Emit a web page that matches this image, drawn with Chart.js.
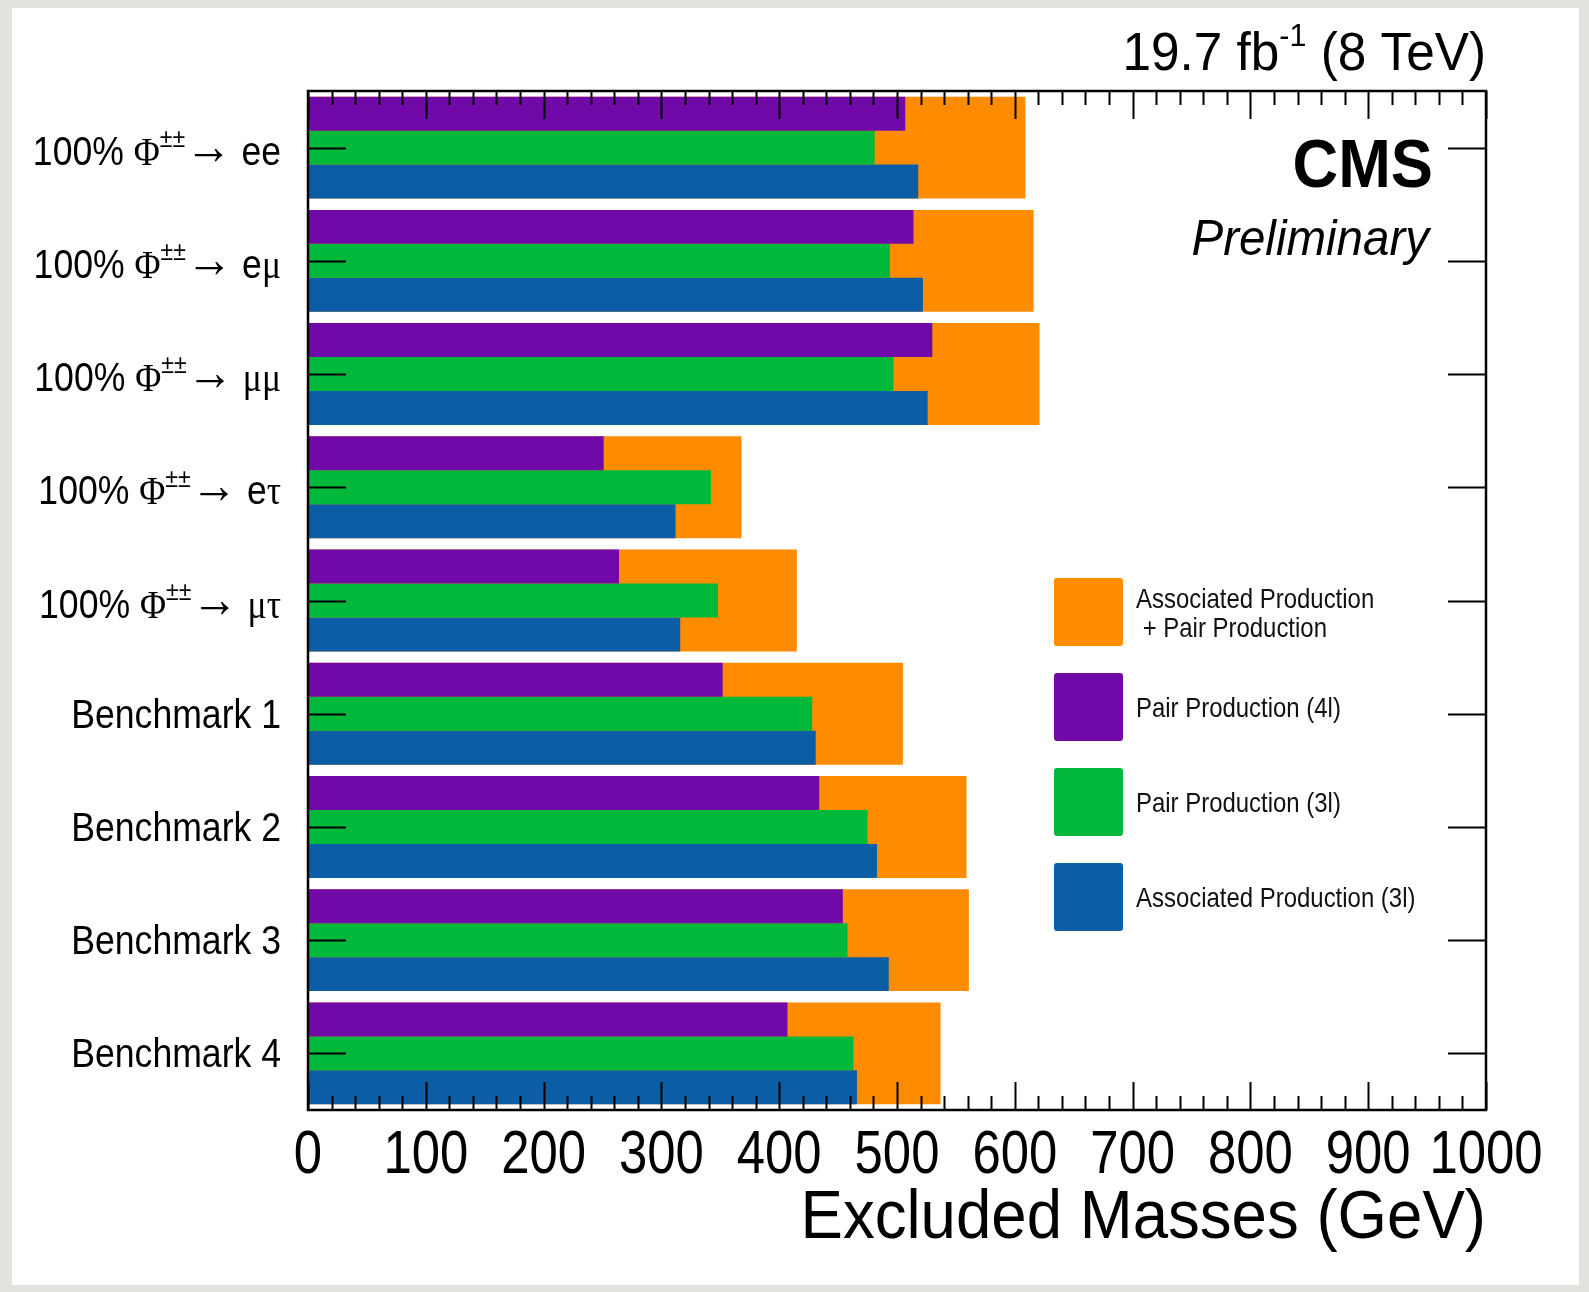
<!DOCTYPE html>
<html>
<head>
<meta charset="utf-8">
<script src="https://cdn.jsdelivr.net/npm/chart.js@4.4.1/dist/chart.umd.min.js"></script>
<style>
  html, body { margin: 0; padding: 0; background: #e4e2de; }
  #wrap { width: 1589px; height: 1292px; }
</style>
</head>
<body>
<div id="wrap"><canvas id="chart" width="1589" height="1292"></canvas></div>
<script>
// excluded mass limits (GeV)
const categories = [
  '100% Φ±±→ ee', '100% Φ±±→ eμ', '100% Φ±±→ μμ', '100% Φ±±→ eτ', '100% Φ±±→ μτ',
  'Benchmark 1', 'Benchmark 2', 'Benchmark 3', 'Benchmark 4'
];
const combined = [609, 616, 621, 368, 415, 505, 559, 561, 537];
const pair4l   = [507, 514, 530, 251, 264, 352, 434, 454, 407];
const pair3l   = [481, 494, 497, 342, 348, 428, 475, 458, 463];
const assoc3l  = [518, 522, 526, 312, 316, 431, 483, 493, 466];
const xTickLabels = ['0', '100', '200', '300', '400', '500', '600', '700', '800', '900', '1000'];

const SANS = "'Liberation Sans', Helvetica, Arial, sans-serif";
const SERIF = "'Liberation Serif', 'DejaVu Serif', serif";

// draw text squeezed horizontally by sx (ROOT fonts look narrow here)
function drawSqueezed(ctx, str, x, y, font, sx, align) {
  ctx.save();
  ctx.font = font;
  const w = ctx.measureText(str).width * sx;
  const left = align === 'right' ? x - w : align === 'center' ? x - w / 2 : x;
  ctx.translate(left, y);
  ctx.scale(sx, 1);
  ctx.textAlign = 'left';
  ctx.textBaseline = 'alphabetic';
  ctx.fillText(str, 0, 0);
  ctx.restore();
  return w;
}

// rich text: array of {t, font, dy}
function drawRich(ctx, parts, x, y, sx, align) {
  ctx.save();
  let total = 0;
  parts.forEach(p => { ctx.font = p.font; p.w = ctx.measureText(p.t).width; total += p.w; });
  const w = total * sx;
  const left = align === 'right' ? x - w : align === 'center' ? x - w / 2 : x;
  ctx.translate(left, y);
  ctx.scale(sx, 1);
  ctx.textAlign = 'left';
  ctx.textBaseline = 'alphabetic';
  let cx = 0;
  parts.forEach(p => { ctx.font = p.font; ctx.fillText(p.t, cx, p.dy || 0); cx += p.w; });
  ctx.restore();
}

function labelParts(str, size) {
  const parts = [];
  for (const ch of str) {
    let kind = 'sans';
    if (ch === '±') kind = 'sup';
    else if (ch === '→') kind = 'arrow';
    else if ('Φμτ'.includes(ch)) kind = 'serif';
    const last = parts[parts.length - 1];
    if (last && last.kind === kind) { last.t += ch; continue; }
    parts.push({ t: ch, kind });
  }
  return parts.map(p => {
    if (p.kind === 'sup') return { t: p.t, font: `${Math.round(size * 0.66)}px ${SANS}`, dy: -size * 0.44 };
    if (p.kind === 'arrow') return { t: p.t, font: `${Math.round(size * 1.3)}px ${SERIF}`, dy: -size * 0.02 };
    if (p.kind === 'serif') return { t: p.t, font: `${size}px ${SERIF}` };
    return { t: p.t, font: `${size}px ${SANS}` };
  });
}

const frame = {
  id: 'frame',
  beforeDraw(chart) {
    const ctx = chart.ctx;
    ctx.save();
    ctx.fillStyle = '#e4e2de';
    ctx.fillRect(0, 0, chart.width, chart.height);
    ctx.fillStyle = '#ffffff';
    ctx.fillRect(12, 8, 1567, 1277);
    ctx.restore();
  },
  afterDatasetsDraw(chart) {
    const ctx = chart.ctx;
    const a = chart.chartArea;
    const xs = chart.scales.x, ys = chart.scales.y;
    ctx.save();
    ctx.strokeStyle = '#000';
    // x ticks top and bottom, inward
    ctx.lineWidth = 2;
    ctx.beginPath();
    for (let v = 0; v <= 1000; v += 20) {
      const px = Math.round(xs.getPixelForValue(v)) + 0.5;
      const len = v % 100 === 0 ? 28 : 14;
      ctx.moveTo(px, a.top); ctx.lineTo(px, a.top + len);
      ctx.moveTo(px, a.bottom); ctx.lineTo(px, a.bottom - len);
    }
    // y ticks at category centres, both sides
    categories.forEach((c, i) => {
      const py = Math.round(ys.getPixelForValue(i)) + 0.5;
      ctx.moveTo(a.left, py); ctx.lineTo(a.left + 38, py);
      ctx.moveTo(a.right, py); ctx.lineTo(a.right - 38, py);
    });
    ctx.stroke();
    ctx.lineWidth = 2.5;
    ctx.strokeRect(a.left, a.top, a.right - a.left, a.bottom - a.top);

    ctx.fillStyle = '#000';
    // x tick labels
    xTickLabels.forEach(lab => {
      const px = xs.getPixelForValue(Number(lab));
      drawSqueezed(ctx, lab, px, 1173, `62px ${SANS}`, 0.82, 'center');
    });
    drawSqueezed(ctx, 'Excluded Masses (GeV)', a.right, 1238, `68px ${SANS}`, 0.935, 'right');

    // category labels
    categories.forEach((c, i) => {
      const py = ys.getPixelForValue(i);
      const off = c.includes('Φ') ? 17 : 14;
      drawRich(ctx, labelParts(c, 40), 281, py + off, 0.89, 'right');
    });

    // lumi label
    drawRich(ctx, [
      { t: '19.7 fb', font: `54px ${SANS}` },
      { t: '-1', font: `32px ${SANS}`, dy: -24 },
      { t: ' (8 TeV)', font: `54px ${SANS}` }
    ], a.right, 70, 0.95, 'right');
    drawSqueezed(ctx, 'CMS', 1433, 187, `bold 68px ${SANS}`, 0.93, 'right');
    drawSqueezed(ctx, 'Preliminary', 1429, 255, `italic 50px ${SANS}`, 0.95, 'right');

    // legend
    const boxTops = [578, 673, 768, 863];
    chart.data.datasets.forEach((ds, k) => {
      const top = boxTops[k];
      ctx.fillStyle = ds.backgroundColor;
      ctx.beginPath();
      ctx.roundRect(1054, top, 69, 68, 3);
      ctx.fill();
      ctx.fillStyle = '#111';
      const lines = ds.label.split('\n');
      const mid = top + 34;
      lines.forEach((ln, j) => {
        const base = mid + 10 + (j - (lines.length - 1) / 2) * 29;
        drawSqueezed(ctx, ln, 1136, base, `28px ${SANS}`, 0.855, 'left');
      });
    });
    ctx.restore();
  }
};

new Chart(document.getElementById('chart'), {
  type: 'bar',
  data: {
    labels: categories,
    datasets: [
      { label: 'Associated Production\n + Pair Production', data: combined, backgroundColor: '#ff8c00', grouped: false, order: 4 },
      { label: 'Pair Production (4l)', data: pair4l, backgroundColor: '#7109a9', order: 1 },
      { label: 'Pair Production (3l)', data: pair3l, backgroundColor: '#00b93b', order: 2 },
      { label: 'Associated Production (3l)', data: assoc3l, backgroundColor: '#0b5ea5', order: 3 }
    ]
  },
  options: {
    indexAxis: 'y',
    responsive: false,
    animation: false,
    layout: { padding: { left: 308, right: 103, top: 91, bottom: 182 } },
    datasets: { bar: { categoryPercentage: 0.9, barPercentage: 1.0, borderWidth: 0, inflateAmount: 0 } },
    plugins: { legend: { display: false }, tooltip: { enabled: false } },
    scales: {
      x: { display: false, min: 0, max: 1000 },
      y: { display: false, type: 'category', offset: true }
    }
  },
  plugins: [frame]
});
</script>
</body>
</html>
